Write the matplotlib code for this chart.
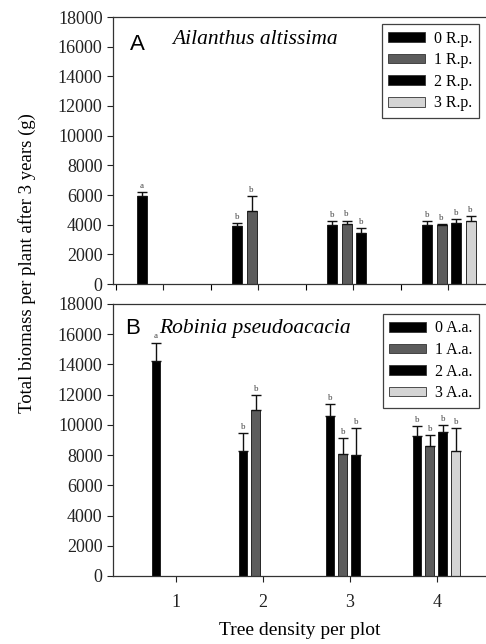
import numpy as np
import matplotlib
matplotlib.use("Agg")
import matplotlib.pyplot as plt
from matplotlib.patches import Patch

plt.rcParams['font.family'] = ['Liberation Serif', 'DejaVu Serif']

densities = [1, 2, 3, 4]
levels = [0, 1, 2, 3]
bar_colors = ['#000000', '#5c5c5c', '#000000', '#d4d4d4']

# Ailanthus altissima, per density: one mean per Robinia level present
ail_mean = [[5950], [3900, 4950], [4000, 4050, 3450], [4000, 3950, 4100, 4250]]
ail_err = [[250], [230, 1000], [250, 230, 300], [220, 120, 280, 320]]
ail_letters = [['a'], ['b', 'b'], ['b', 'b', 'b'], ['b', 'b', 'b', 'b']]

# Robinia pseudoacacia
rob_mean = [[14250], [8300, 11000], [10600, 8100, 8000], [9250, 8600, 9500, 8300]]
rob_err = [[1200], [1150, 1000], [800, 1000, 1800], [700, 750, 500, 1500]]
rob_letters = [['a'], ['b', 'b'], ['b', 'b', 'b'], ['b', 'b', 'b', 'b']]

yticks = np.arange(0, 18001, 2000)

fig = plt.figure(figsize=(4.86, 6.44), dpi=100)
ax1 = fig.add_axes([113/486, 1-284/644, 373/486, 267/644])
ax2 = fig.add_axes([113/486, 1-576/644, 373/486, 272/644])


def draw_panel(ax, means, errs, letters, start, step, width, suffix, top):
    for i, d in enumerate(densities):
        for k, (m, e, lt) in enumerate(zip(means[i], errs[i], letters[i])):
            x = d + start + step*k
            ax.bar(x, m, width=width, color=bar_colors[k], edgecolor='#111111',
                   linewidth=0.6, zorder=2)
            ax.errorbar(x, m, yerr=[[0], [e]], fmt='none', ecolor='#111111',
                        elinewidth=1, capsize=3.5, capthick=1, zorder=3)
            ax.annotate(lt, (x, m + e), xytext=(0, 1.5), textcoords='offset points',
                        ha='center', va='bottom', fontsize=6.5, color='#444444')
    ax.set_ylim(0, 18000)
    ax.set_yticks(yticks)
    ax.tick_params(axis='both', direction='out', length=4, width=0.8,
                   labelsize=13, colors='#222222')
    ax.spines['right'].set_visible(False)
    for s in ['left', 'bottom', 'top']:
        ax.spines[s].set_linewidth(0.9)
        ax.spines[s].set_color('#333333')
    handles = [Patch(facecolor=bar_colors[k], edgecolor='#333333', linewidth=0.6,
                     label=f'{lv} {suffix}') for k, lv in enumerate(levels)]
    leg = ax.legend(handles=handles, loc='upper right', bbox_to_anchor=(0.99, top),
                    fontsize=11.5, frameon=True, fancybox=False, edgecolor='#111111',
                    handlelength=2.3, handleheight=0.55, handletextpad=0.6,
                    labelspacing=0.35, borderpad=0.4, borderaxespad=0.2)
    leg.get_frame().set_linewidth(0.9)


draw_panel(ax1, ail_mean, ail_err, ail_letters, -0.221, 0.153, 0.105, 'R.p.', 0.985)
ax1.set_xlim(1 - 50/95, 4 + 38/95)
ax1.set_xticks(densities)
ax1.set_xticks(np.array(densities) - 0.5, minor=True)
ax1.tick_params(axis='x', which='both', labelbottom=False, length=4, width=0.8)
ax1.text(0.045, 0.875, 'A', transform=ax1.transAxes, fontsize=16,
         family=['Liberation Sans', 'DejaVu Sans'])
ax1.text(0.158, 0.9, 'Ailanthus altissima', transform=ax1.transAxes,
         fontsize=15.5, style='italic')

draw_panel(ax2, rob_mean, rob_err, rob_letters, -0.23, 0.149, 0.103, 'A.a.', 0.975)
ax2.set_xlim(1 - 63/87, 4 + 49/87)
ax2.set_xticks(densities)
ax2.set_xticklabels([str(d) for d in densities])
ax2.tick_params(axis='x', pad=9, labelsize=13)
ax2.text(0.032, 0.89, 'B', transform=ax2.transAxes, fontsize=16,
         family=['Liberation Sans', 'DejaVu Sans'])
ax2.text(0.124, 0.895, 'Robinia pseudoacacia', transform=ax2.transAxes,
         fontsize=15.5, style='italic')
ax2.set_xlabel('Tree density per plot', fontsize=14, labelpad=8)

fig.text(27/486, 1-263/644, 'Total biomass per plant after 3 years (g)',
         rotation=90, ha='center', va='center', fontsize=13.5)

fig.savefig('out.png', dpi=100)
